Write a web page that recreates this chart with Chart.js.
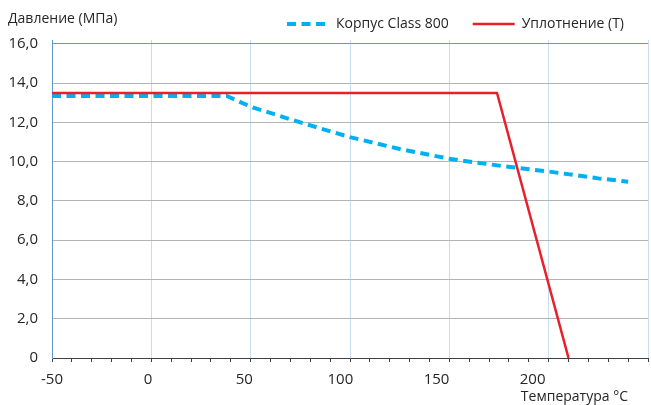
<!DOCTYPE html>
<html>
<head>
<meta charset="utf-8">
<title>Давление - температура</title>
<script src="https://cdn.jsdelivr.net/npm/chart.js@4.4.1/dist/chart.umd.min.js"></script>
<style>
  html, body { margin: 0; padding: 0; background: #fff; }
</style>
</head>
<body>
<canvas id="pressureChart" width="651" height="405"></canvas>
<script>
'use strict';

// корпус
const bodyLabel = 'Корпус Class 800'
const bodyTemps = [-50, 38, 50, 75, 100, 125, 150, 175, 200, 225, 240]
const bodyPressure = [13.35, 13.35, 12.8, 12.0, 11.25, 10.65, 10.15, 9.8, 9.5, 9.15, 8.98]

// уплотнение
const sealLabel = 'Уплотнение (Т)'
const sealTemps = [-50, 174, 210]
const sealPressure = [13.5, 13.5, 0]

const xTicks = [-50, 0, 50, 100, 150, 200]
const yTicks = [0, 2, 4, 6, 8, 10, 12, 14, 16]

const yTitle = 'Давление (МПа)'
const xTitle = 'Температура °C'

const textColor = '#262626'
Chart.defaults.font.family = "'Open Sans', sans-serif"
Chart.defaults.color = textColor

const toPoints = (xs, ys) => xs.map((x, i) => ({x: x, y: ys[i]}))

const axisTitles = {
    id: 'axisTitles',
    afterDraw(chart) {
        const ctx = chart.ctx
        const area = chart.chartArea
        ctx.save()
        ctx.fillStyle = textColor
        ctx.font = "14px 'Open Sans', sans-serif"
        ctx.textBaseline = 'middle'
        ctx.textAlign = 'left'
        ctx.fillText(yTitle, 8, 19)
        ctx.textAlign = 'right'
        ctx.fillText(xTitle, area.right - 20, 397)
        ctx.restore()
    }
}

new Chart('pressureChart', {
    type: 'line',
    data: {
        datasets: [{
            label: bodyLabel,
            data: toPoints(bodyTemps, bodyPressure),
            borderColor: '#00b0f0',
            backgroundColor: '#00b0f0',
            borderWidth: 4,
            borderDash: [9, 5.5],
            pointRadius: 0,
            tension: 0,
            order: 1
        }, {
            label: sealLabel,
            data: toPoints(sealTemps, sealPressure),
            borderColor: '#e8202a',
            backgroundColor: '#e8202a',
            borderWidth: 2.5,
            pointRadius: 0,
            tension: 0,
            order: 0
        }]
    },
    options: {
        responsive: false,
        animation: false,
        devicePixelRatio: 1,
        layout: {
            padding: {top: -7, right: 3, bottom: 0, left: 0}
        },
        plugins: {
            tooltip: {enabled: false},
            legend: {
                position: 'top',
                align: 'end',
                maxHeight: 47,
                labels: {
                    usePointStyle: true,
                    pointStyle: 'line',
                    pointStyleWidth: 42,
                    padding: 24,
                    color: textColor,
                    font: {size: 14},
                    sort: (a, b) => a.datasetIndex - b.datasetIndex,
                    generateLabels: (chart) => {
                        const items = Chart.defaults.plugins.legend.labels.generateLabels(chart)
                        items.forEach(item => {
                            item.lineDash = chart.data.datasets[item.datasetIndex].borderDash || []
                        })
                        return items
                    }
                }
            }
        },
        scales: {
            x: {
                type: 'linear',
                position: 'bottom',
                weight: 0,
                min: -50,
                max: 250,
                ticks: {stepSize: 10, display: false},
                grid: {
                    color: (c) => (c.tick && c.tick.value % 50 === 0) ? '#c9dcef' : 'rgba(0,0,0,0)',
                    tickColor: '#404040',
                    tickLength: 4,
                    lineWidth: 1
                },
                border: {color: '#404040', width: 1},
                afterFit: (scale) => { scale.height = 5 }
            },
            x2: {
                type: 'linear',
                position: 'bottom',
                weight: 1,
                min: -50,
                max: 260,
                afterBuildTicks: (scale) => { scale.ticks = xTicks.map(v => ({value: v})) },
                ticks: {padding: 8, font: {size: 15}, color: textColor, maxRotation: 0, autoSkip: false},
                grid: {display: false, drawTicks: false},
                border: {display: false},
                afterFit: (scale) => { scale.height = 42 }
            },
            y: {
                type: 'linear',
                min: 0,
                max: 16.2,
                afterBuildTicks: (scale) => { scale.ticks = yTicks.map(v => ({value: v})) },
                ticks: {
                    padding: 14,
                    font: {size: 15},
                    color: textColor,
                    callback: (v) => v === 0 ? '0' : v.toFixed(1).replace('.', ',')
                },
                grid: {
                    color: (c) => (c.tick && c.tick.value === 16) ? '#5b9bd5' : '#b4b4b4',
                    drawTicks: false,
                    lineWidth: 1
                },
                border: {color: '#5b9bd5', width: 1},
                afterFit: (scale) => { scale.width = 52 }
            }
        }
    },
    plugins: [axisTitles]
});
</script>
</body>
</html>
